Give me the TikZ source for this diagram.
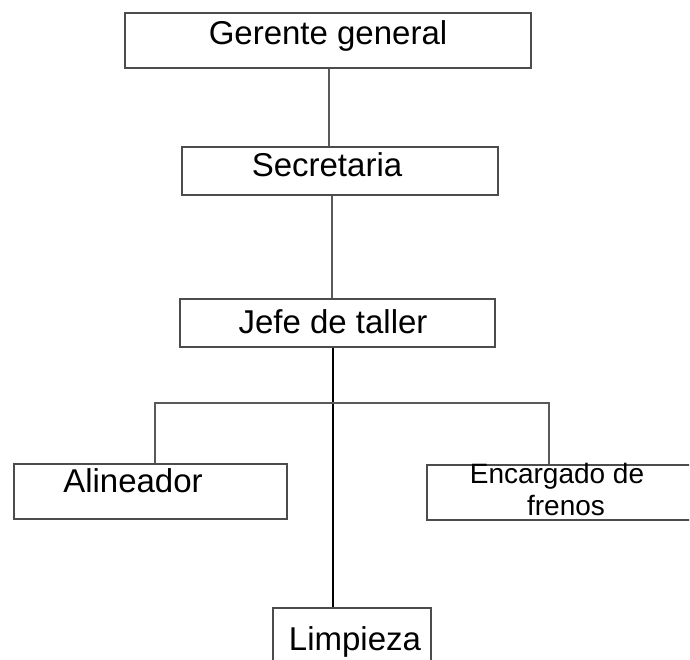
\documentclass[tikz,border=0pt]{standalone}
\usepackage{fontspec}
\setmainfont{Liberation Sans}
\begin{document}
\begin{tikzpicture}[x=1pt,y=-1pt,
  box/.style={draw=black!70,line width=1.6pt,rectangle,inner sep=0pt,fill=none},
  link/.style={draw=black!65,line width=1.6pt},
  lbl/.style={anchor=base,inner sep=0pt,text=black,font=\fontsize{33}{36}\selectfont},
  lblsm/.style={anchor=base,inner sep=0pt,text=black,font=\fontsize{28}{32}\selectfont}]
\useasboundingbox[fill=white] (0,0) rectangle (690,660);
\clip (-1,-1) rectangle (689,659);
% boxes
\node[box,minimum width=406pt,minimum height=55pt] (ger) at (328,40.5) {};
\node[box,minimum width=316pt,minimum height=48pt] (sec) at (340,171) {};
\node[box,minimum width=315pt,minimum height=48pt] (jef) at (337.5,323) {};
\node[box,minimum width=273pt,minimum height=55pt] (ali) at (150.5,491.5) {};
\node[box,minimum width=293pt,minimum height=55pt] (enc) at (573.5,492.5) {};
\node[box,minimum width=158pt,minimum height=62pt] (lim) at (352,639) {};
% texts
\node[lbl] (tger) at (328,45) {Gerente general};
\node[lbl] (tsec) at (327,177) {Secretaria};
\node[lbl] (tjef) at (333,333) {Jefe de taller};
\node[lbl] (tali) at (133,492) {Alineador};
\node[lblsm] (tenc1) at (557,483) {Encargado de};
\node[lblsm] (tenc2) at (566,515) {frenos};
\node[lbl] (tlim) at (355,650) {Limpieza};
% connectors
\coordinate (c1) at (329,0);
\coordinate (c2) at (332,0);
\coordinate (bar) at (333,403);
\coordinate (lx) at (155,0);
\coordinate (rx) at (549,0);
\draw[link] (ger.south -| c1) -- (sec.north -| c1);
\draw[link] (sec.south -| c2) -- (jef.north -| c2);
\draw[link,draw=black] (jef.south -| bar) -- (lim.north -| bar);
\draw[link] (ali.north -| lx) |- (bar) -| (enc.north -| rx);
\end{tikzpicture}
\end{document}
